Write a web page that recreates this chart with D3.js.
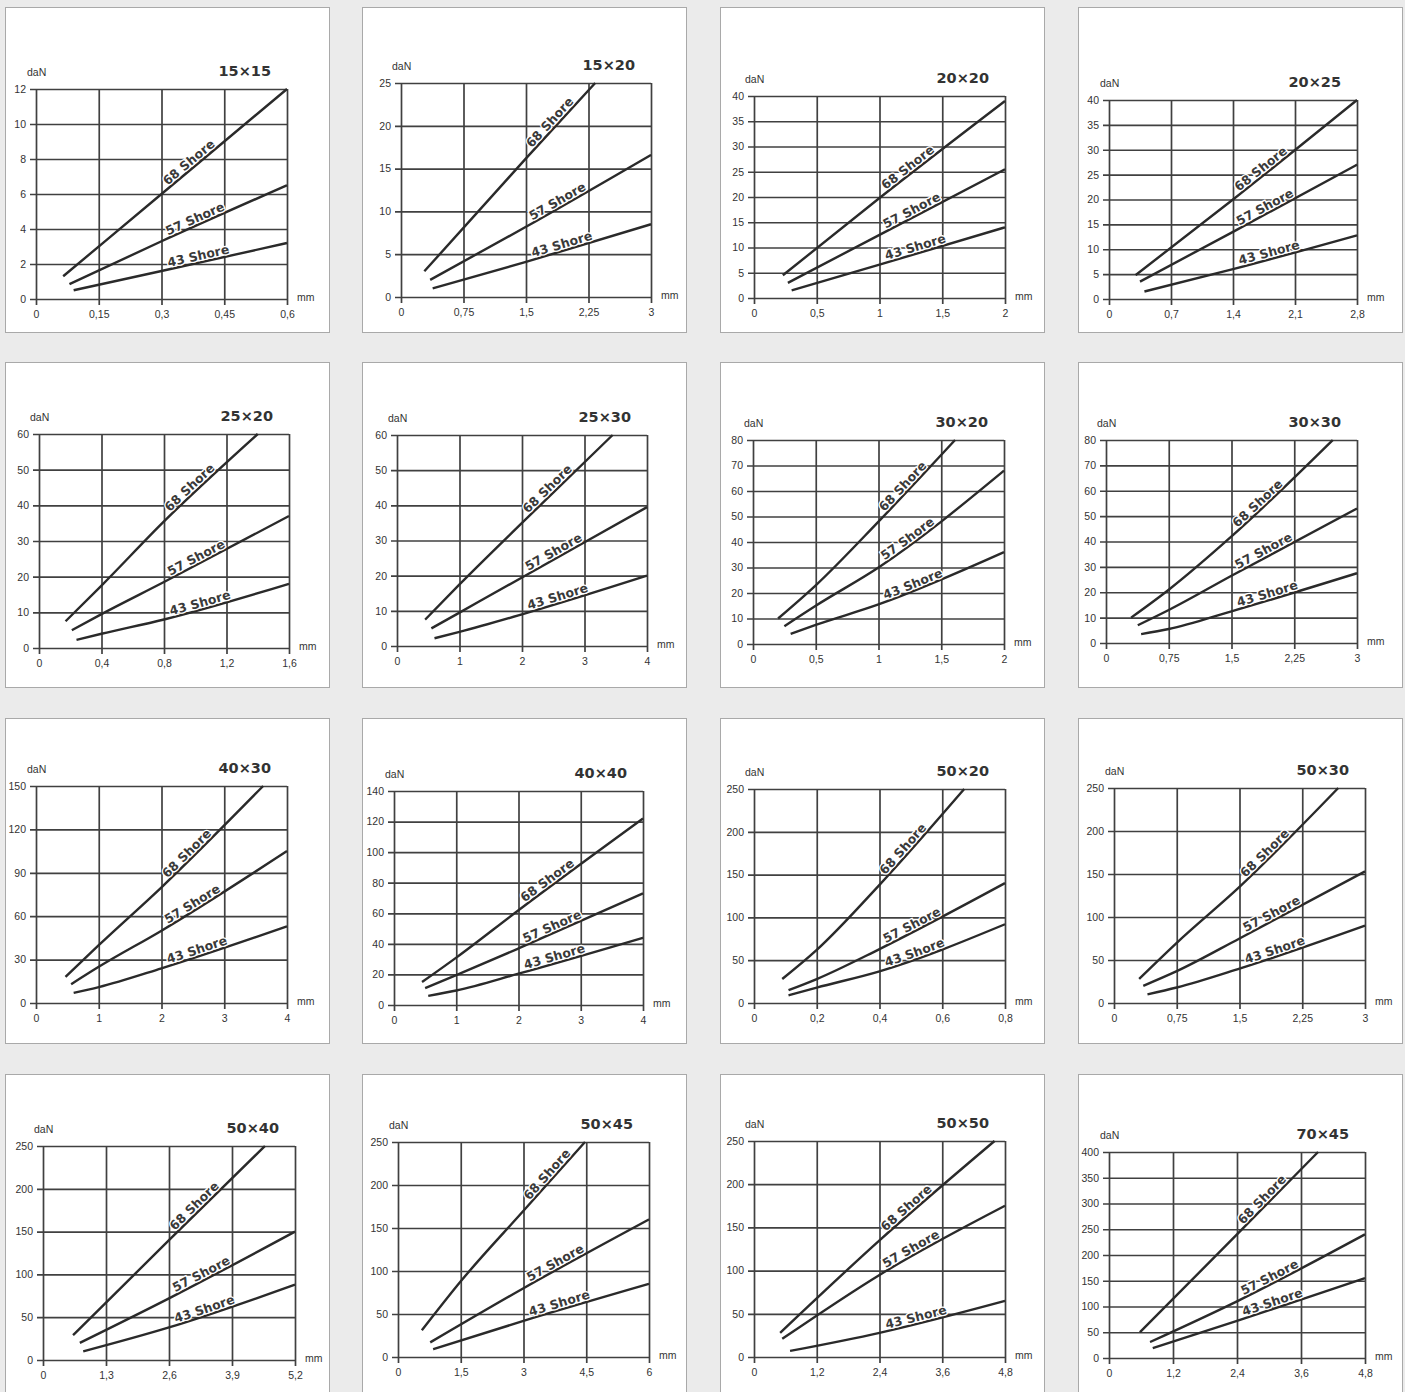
<!DOCTYPE html>
<html>
<head>
<meta charset="utf-8">
<script src="https://cdn.jsdelivr.net/npm/d3@7"></script>
<style>
  body { margin: 0; background: #ebebeb; }
  svg { display: block; }
  .tick line { stroke: #404040; stroke-width: 1.7; }
  .tick text { font-family: "Liberation Sans", Arial, sans-serif; font-size: 10.5px; fill: #333; }
  .unit { font-family: "Liberation Sans", Arial, sans-serif; font-size: 10.5px; fill: #333; }
  .title { font-family: "DejaVu Sans", sans-serif; font-weight: bold; font-size: 14.5px; fill: #333; }
  .curve { fill: none; stroke: #2a2a2a; stroke-width: 2.4; }
  .shore { font-family: "DejaVu Sans", sans-serif; font-weight: bold; font-size: 12.5px; fill: #3a3a3a;
           stroke: #fff; stroke-width: 2.6; paint-order: stroke; }
</style>
</head>
<body>
<div id="chart"></div>
<script>
// panel titles (profile size)
const titles = ["15×15", "15×20", "20×20", "20×25",
                "25×20", "25×30", "30×20", "30×30",
                "40×30", "40×40", "50×20", "50×30",
                "50×40", "50×45", "50×50", "70×45"];

// x axis: 4 equal steps in mm
const xStep = [0.15, 0.75, 0.5, 0.7,
               0.4, 1, 0.5, 0.75,
               1, 1, 0.2, 0.75,
               1.3, 1.5, 1.2, 1.2];

// y axis in daN
const yMax  = [12, 25, 40, 40, 60, 60, 80, 80, 150, 140, 250, 250, 250, 250, 250, 400];
const yStep = [2, 5, 5, 5, 10, 10, 10, 10, 30, 20, 50, 50, 50, 50, 50, 50];

const shoreNames = ["68 Shore", "57 Shore", "43 Shore"];

const shore68 = [
  [[0.065, 1.3], [0.3, 6], [0.6, 12]],
  [[0.28, 3], [1.5, 16.2], [2.33, 25]],
  [[0.23, 4.5], [1, 19.8], [2, 39]],
  [[0.3, 4.8], [1.4, 20], [2.8, 40]],
  [[0.17, 7.5], [0.4, 17.5], [0.8, 35.5], [1.4, 60]],
  [[0.45, 7.5], [1, 17.5], [2, 35], [3.45, 60]],
  [[0.2, 10], [0.5, 23], [1, 48], [1.61, 80]],
  [[0.3, 10], [0.75, 21], [1.5, 42], [2.71, 80]],
  [[0.47, 18], [1, 40], [2, 80], [3.62, 150]],
  [[0.45, 15], [1, 31], [2, 62], [4, 122]],
  [[0.09, 28], [0.2, 62], [0.4, 138], [0.67, 250]],
  [[0.3, 28], [0.75, 70], [1.5, 135], [2.68, 250]],
  [[0.62, 29], [1.3, 67], [2.6, 140], [4.58, 250]],
  [[0.57, 31], [1.5, 88], [3, 170], [4.47, 250]],
  [[0.5, 28], [2.4, 135], [4.6, 250]],
  [[0.58, 50], [2.4, 240], [3.92, 400]]
];

const shore57 = [
  [[0.08, 0.85], [0.3, 3.3], [0.6, 6.5]],
  [[0.35, 2], [1.5, 8.2], [3, 16.6]],
  [[0.27, 3], [1, 12.5], [2, 25.5]],
  [[0.35, 3.5], [1.4, 13.5], [2.8, 27]],
  [[0.21, 5], [0.4, 9.5], [0.8, 18.5], [1.6, 37]],
  [[0.55, 5], [1, 9.5], [2, 19.5], [4, 39.5]],
  [[0.25, 7], [0.5, 15], [1, 30], [2, 68]],
  [[0.38, 7], [0.75, 13], [1.5, 26.5], [3, 53]],
  [[0.56, 13], [1, 25], [2, 50], [4, 105]],
  [[0.5, 11], [1, 19.5], [2, 37], [4, 73]],
  [[0.11, 15], [0.2, 28], [0.4, 63], [0.8, 140]],
  [[0.35, 20], [0.75, 37], [1.5, 75], [3, 153]],
  [[0.76, 20], [2.6, 72], [5.2, 150]],
  [[0.77, 17], [3, 80], [6, 160]],
  [[0.54, 21], [2.4, 95], [4.8, 175]],
  [[0.77, 31], [2.4, 110], [4.8, 240]]
];

const shore43 = [
  [[0.09, 0.5], [0.3, 1.6], [0.6, 3.2]],
  [[0.38, 1], [1.5, 4.1], [3, 8.5]],
  [[0.3, 1.5], [1, 6.6], [2, 14]],
  [[0.4, 1.5], [1.4, 6], [2.8, 12.8]],
  [[0.24, 2.3], [0.4, 4], [0.8, 8], [1.6, 18]],
  [[0.6, 2.2], [1, 4], [2, 9], [4, 20]],
  [[0.3, 4], [0.5, 7.5], [1, 15.5], [2, 36]],
  [[0.42, 3.5], [0.75, 5.5], [1.5, 12.5], [3, 27.5]],
  [[0.6, 7], [1, 11], [2, 24], [4, 53]],
  [[0.55, 6], [1, 9.5], [2, 20.5], [4, 44]],
  [[0.11, 9], [0.2, 18], [0.4, 37], [0.8, 92]],
  [[0.4, 10], [0.75, 18], [1.5, 40], [3, 90]],
  [[0.83, 10], [2.6, 38], [5.2, 88]],
  [[0.84, 9], [3, 42], [6, 85]],
  [[0.69, 7], [2.4, 28], [4.8, 65]],
  [[0.82, 19], [2.4, 72], [4.8, 155]]
];

// page layout
var W = 1405, H = 1392;
var boxX = [5, 362, 720, 1078], boxY = [7, 362, 718, 1074], boxW = 324, boxH = 325;
// plot frame of each sheet: left, top, right, bottom (the scans are not perfectly aligned)
var frames = [
  [36, 89, 287, 299], [401, 83, 651, 297], [754, 96, 1005, 298], [1109, 100, 1357, 299],
  [39, 434, 289, 648], [397, 435, 647, 646], [753, 440, 1004, 644], [1106, 440, 1357, 643],
  [36, 786, 287, 1003], [394, 791, 643, 1005], [754, 789, 1005, 1003], [1114, 788, 1365, 1003],
  [43, 1146, 295, 1360], [398, 1142, 649, 1357], [754, 1141, 1005, 1357], [1109, 1152, 1365, 1358]
];

var fmt = function(v) { return String(v).replace(".", ","); };

var svg = d3.select("#chart").append("svg")
  .attr("width", W)
  .attr("height", H);

svg.append("rect").attr("width", W).attr("height", H).attr("fill", "#ebebeb");

titles.forEach(function(title, i) {
  var col = i % 4, row = Math.floor(i / 4);
  var f = frames[i];

  svg.append("rect")
    .attr("x", boxX[col] + 0.5).attr("y", boxY[row] + 0.5)
    .attr("width", boxW).attr("height", boxH)
    .attr("fill", "#fff").attr("stroke", "#a9a9a9");

  var xTicks = d3.range(5).map(function(k) { return +(k * xStep[i]).toFixed(3); });
  var yTicks = d3.range(yMax[i] / yStep[i] + 1).map(function(k) { return k * yStep[i]; });

  var x = d3.scaleLinear().domain([0, xTicks[4]]).range([f[0], f[2]]);
  var y = d3.scaleLinear().domain([0, yMax[i]]).range([f[3], f[1]]);

  var g = svg.append("g");

  // vertical grid + ticks below
  g.append("g")
    .attr("transform", "translate(0," + (f[3] + 6) + ")")
    .call(d3.axisBottom(x).tickValues(xTicks).tickFormat(fmt)
      .tickSize(-(f[3] - f[1] + 6)).tickSizeOuter(0).tickPadding(6))
    .call(function(a) { a.select(".domain").remove(); });

  // horizontal grid + ticks left
  g.append("g")
    .attr("transform", "translate(" + (f[0] - 6) + ",0)")
    .call(d3.axisLeft(y).tickValues(yTicks).tickFormat(fmt)
      .tickSize(-(f[2] - f[0] + 6)).tickSizeOuter(0).tickPadding(4))
    .call(function(a) { a.select(".domain").remove(); });

  g.append("text").attr("class", "unit").attr("x", f[0] - 9).attr("y", f[1] - 13).text("daN");
  g.append("text").attr("class", "unit").attr("x", f[2] + 10).attr("y", f[3] + 2).text("mm");
  g.append("text").attr("class", "title").attr("x", f[2] - 16).attr("y", f[1] - 13)
    .attr("text-anchor", "end").text(title);

  var line = d3.line()
    .x(function(d) { return x(d[0]); })
    .y(function(d) { return y(d[1]); })
    .curve(d3.curveMonotoneX);

  [shore68[i], shore57[i], shore43[i]].forEach(function(pts, k) {
    var id = "c" + i + "_" + k;
    var path = g.append("path")
      .attr("id", id)
      .attr("class", "curve")
      .attr("d", line(pts));

    // find where the label starts along the curve
    var node = path.node(), total = node.getTotalLength();
    var tx = x(0.53 * xTicks[4]);
    var lo = 0, hi = total;
    for (var n = 0; n < 30; n++) {
      var mid = (lo + hi) / 2;
      if (node.getPointAtLength(mid).x < tx) lo = mid; else hi = mid;
    }

    g.append("text")
      .attr("class", "shore")
      .attr("dy", -2.5)
      .append("textPath")
      .attr("href", "#" + id)
      .attr("startOffset", lo)
      .text(shoreNames[k]);
  });
});
</script>
</body>
</html>
